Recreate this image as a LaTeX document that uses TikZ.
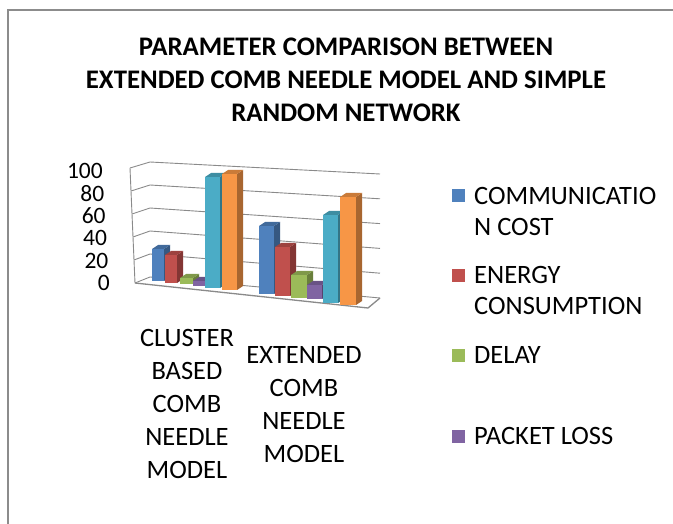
\documentclass[tikz,border=0pt]{standalone}
\usepackage{fontspec}
\setmainfont{Carlito}
\definecolor{framegray}{HTML}{8C8C8C}
\definecolor{gridgray}{HTML}{8A8A8A}
\definecolor{xblue}{HTML}{4F81BD}
\definecolor{xred}{HTML}{C0504D}
\definecolor{xgreen}{HTML}{9BBB59}
\definecolor{xpurple}{HTML}{8064A2}
\definecolor{xaqua}{HTML}{4BACC6}
\definecolor{xorange}{HTML}{F79646}
% 3D column: left x, width, top y, bottom y, colour
\newcommand\colbar[5]{%
  \fill[#5!68!black] (#1+#2,#3) -- ++(6,-4) -- ++(0,#4-#3) -- (#1+#2,#4) -- cycle;
  \fill[#5!82!black] (#1,#3) -- ++(6,-4) -- ++(#2,0) -- (#1+#2,#3) -- cycle;
  \fill[#5] (#1,#3) rectangle (#1+#2,#4);
}
\begin{document}
\begin{tikzpicture}[x=1pt,y=-1pt,
  grid/.style={draw=gridgray, line width=0.9pt},
  chartframe/.style={draw=framegray, line width=2.6pt},
  ticklabel/.style={anchor=east, inner sep=0pt, font=\fontsize{23.5}{23.5}\selectfont},
  catlabel/.style={anchor=north, inner sep=0pt, align=center, font=\fontsize{26.5}{33}\selectfont},
  legtext/.style={anchor=north west, inner sep=0pt, align=left, font=\fontsize{26.5}{31.5}\selectfont},
  legkey/.style={inner sep=0pt, minimum size=13pt}]
\useasboundingbox (0,0) rectangle (673,524);
\fill[white] (0,0) rectangle (673,524);
% outer frame
\draw[chartframe] (8,524) -- (8,10) -- (673,10);
% title
\node[anchor=north, inner sep=0pt, align=center,
      font=\fontsize{26.8}{33}\selectfont\bfseries] (title) at (346,38)
  {PARAMETER COMPARISON BETWEEN\\EXTENDED COMB NEEDLE MODEL AND SIMPLE\\RANDOM NETWORK};
% walls and gridlines
\foreach \v in {0,20,...,100} {
  \draw[grid] ({135-0.05*\v},{283-1.15*\v}) -- (150,{277-1.15*\v}) -- (380,{298-1.24*\v});
}
\draw[grid] (135,283) -- (130,168);
\draw[grid, line width=1.3pt] (135,283) -- (368,308) -- (380,298);
% value axis labels
\foreach \v in {0,20,...,100} {
  \node[ticklabel] (tick\v) at ({110-0.07*\v},{283-1.12*\v}) {\v};
}
% first category
\colbar{152}{12}{249}{281}{xblue}
\colbar{165}{12}{255}{283}{xred}
\colbar{180}{13}{278}{284}{xgreen}
\colbar{193}{13}{281}{286}{xpurple}
\colbar{205}{15}{177}{288}{xaqua}
\colbar{222}{15}{174}{290}{xorange}
% second category
\colbar{259}{15}{226}{294}{xblue}
\colbar{275}{15}{247}{296}{xred}
\colbar{291}{16}{275}{298}{xgreen}
\colbar{307}{15}{285}{299}{xpurple}
\colbar{323}{15}{215}{303}{xaqua}
\colbar{340}{16}{197}{305}{xorange}
% category labels
\node[catlabel] (cat1) at (187,329) {CLUSTER\\BASED\\COMB\\NEEDLE\\MODEL};
\node[catlabel] (cat2) at (304,346) {EXTENDED\\COMB\\NEEDLE\\MODEL};
% legend
\node[legkey, fill=xblue]   (k1) at (458,196) {};
\node[legkey, fill=xred]    (k2) at (458,276) {};
\node[legkey, fill=xgreen]  (k3) at (458,355) {};
\node[legkey, fill=xpurple] (k4) at (458,436) {};
\node[legtext] (l1) at (474,187) {COMMUNICATIO\\N COST};
\node[legtext] (l2) at (474,266) {ENERGY\\CONSUMPTION};
\node[legtext] (l3) at (474,346) {DELAY};
\node[legtext] (l4) at (474,427) {PACKET LOSS};
\end{tikzpicture}
\end{document}
